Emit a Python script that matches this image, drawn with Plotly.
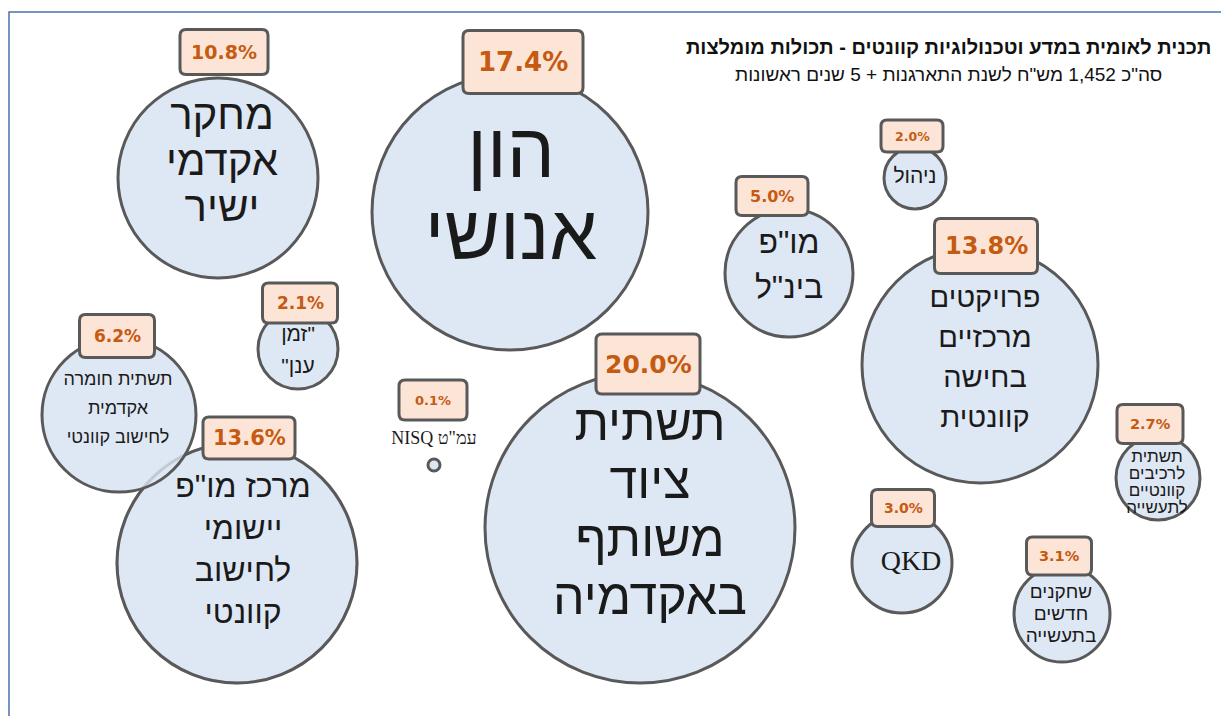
import plotly.graph_objects as go

# ---- data ----
labels = [
    ["מחקר", "אקדמי", "ישיר"],
    ["הון", "אנושי"],
    ['מו"פ', 'בינ"ל'],
    ["ניהול"],
    ["פרויקטים", "מרכזיים", "בחישה", "קוונטית"],
    ['זמן"', '"ענן'],
    ['מרכז מו"פ', "יישומי", "לחישוב", "קוונטי"],
    ["תשתית חומרה", "אקדמית", "לחישוב קוונטי"],
    ['NISQ עמ"ט'],
    ["תשתית", "ציוד", "משותף", "באקדמיה"],
    ["תשתית", "לרכיבים", "קוונטיים", "לתעשייה"],
    ["QKD"],
    ["שחקנים", "חדשים", "בתעשייה"],
]
values = [10.8, 17.4, 5.0, 2.0, 13.8, 2.1, 13.6, 6.2, 0.1, 20.0, 2.7, 3.0, 3.1]

# bubble layout (page pixels)
bubble_x = [218, 510, 789, 915, 980, 298, 237, 119, 434, 640, 1158, 902, 1062]
bubble_y = [178, 212, 273, 178, 365, 349, 563, 415, 465, 528, 478, 563, 614]
bubble_r = [100, 138, 64, 31, 118, 40, 120, 77, 6, 155, 42, 50, 48]

# value label boxes
box_x = [224, 523, 772, 912, 986, 300, 249, 117, 433, 648, 1150, 903, 1059]
box_y = [52, 62, 196, 136, 246, 303, 438, 336, 400, 364, 424, 508, 556]
box_w = [88, 120, 72, 62, 103, 75, 92, 75, 68, 104, 66, 63, 65]
box_h = [45, 63, 39, 32, 55, 40, 42, 43, 40, 60, 39, 37, 38]
box_font = [19, 26, 16, 12.5, 24, 17, 21, 17, 13, 25, 14.5, 14, 14.5]

# category text (block centre, font size, line spacing)
text_x = [222, 511, 789, 915, 985, 298, 243, 118, 434, 650, 1157, 911, 1061]
text_y = [164, 199, 267, 178, 360, 352, 552, 409, 439, 514, 483, 563, 615]
text_size = [42, 76, 32, 21, 29, 21, 32, 18, 18, 50, 17, 28, 19]
line_gap = [46, 82, 45, 0, 40, 32, 42, 29, 0, 58, 17, 0, 22]
text_family = ["Liberation Sans"] * 13
text_family[8] = "Liberation Serif"
text_family[11] = "Liberation Serif"

title = "תכנית לאומית במדע וטכנולוגיות קוונטים - תכולות מומלצות"
subtitle = 'סה"כ 1,452 מש"ח לשנת התארגנות + 5 שנים ראשונות'

# ---- figure ----
W, H = 1221, 708  # page has 8px body margin
X0, Y0 = 8, 8

fig = go.Figure()

fig.add_trace(go.Scatter(
    x=bubble_x, y=bubble_y,
    mode="markers",
    marker=dict(
        size=[2 * r for r in bubble_r],
        sizemode="diameter",
        color="#dee8f4",
        opacity=1,
        line=dict(color="#595959", width=3),
    ),
    hoverinfo="skip",
    showlegend=False,
))

# faint outline of the 13.6% bubble showing through the 6.2% bubble
ov = [6]
fig.add_trace(go.Scatter(
    x=[bubble_x[i] for i in ov], y=[bubble_y[i] for i in ov],
    mode="markers",
    marker=dict(size=[2 * bubble_r[i] for i in ov], sizemode="diameter",
                color="rgba(0,0,0,0)", line=dict(color="rgba(89,89,89,0.3)", width=3)),
    hoverinfo="skip", showlegend=False,
))

# one text mark per line
lx, ly, lt, ls, lf = [], [], [], [], []
for i, lines in enumerate(labels):
    n = len(lines)
    for k, s in enumerate(lines):
        lx.append(text_x[i])
        ly.append(text_y[i] + (k - (n - 1) / 2) * line_gap[i])
        lt.append(s)
        ls.append(text_size[i])
        lf.append(text_family[i])

fig.add_trace(go.Scatter(
    x=lx, y=ly, mode="text", text=lt,
    textposition="middle center",
    textfont=dict(size=ls, family=lf, color="#1a1a1a"),
    hoverinfo="skip", showlegend=False,
))

def rounded_rect(cx, cy, w, h, r=6):
    x0, x1 = cx - w / 2, cx + w / 2
    y0, y1 = cy - h / 2, cy + h / 2
    return (f"M {x0+r},{y0} L {x1-r},{y0} Q {x1},{y0} {x1},{y0+r} "
            f"L {x1},{y1-r} Q {x1},{y1} {x1-r},{y1} L {x0+r},{y1} "
            f"Q {x0},{y1} {x0},{y1-r} L {x0},{y0+r} Q {x0},{y0} {x0+r},{y0} Z")

shapes = []
for i in range(len(values)):
    shapes.append(dict(type="path", path=rounded_rect(box_x[i], box_y[i], box_w[i], box_h[i]),
                       xref="x", yref="y", fillcolor="#fce4d6",
                       line=dict(color="#595959", width=3), layer="above"))
# outer frame
shapes.append(dict(type="rect", xref="x", yref="y", x0=9, y0=12, x1=1240, y1=740,
                   line=dict(color="#4a72a6", width=1.5), fillcolor="rgba(0,0,0,0)", layer="below"))

annotations = []
for i, v in enumerate(values):
    annotations.append(dict(x=box_x[i], y=box_y[i], xref="x", yref="y", text=f"<b>{v:.1f}%</b>",
                            showarrow=False, font=dict(family="DejaVu Sans", size=box_font[i], color="#c55a11")))
annotations.append(dict(x=948, y=47, xref="x", yref="y", text=f"<b>{title}</b>", showarrow=False,
                        font=dict(family="Liberation Sans", size=20, color="#111111")))
annotations.append(dict(x=948, y=74, xref="x", yref="y", text=subtitle, showarrow=False,
                        font=dict(family="Liberation Sans", size=19, color="#111111")))

fig.update_layout(
    width=W, height=H,
    margin=dict(l=0, r=0, t=0, b=0),
    paper_bgcolor="white", plot_bgcolor="white",
    xaxis=dict(range=[X0, X0 + W], visible=False, fixedrange=True),
    yaxis=dict(range=[Y0 + H, Y0], visible=False, fixedrange=True),
    shapes=shapes, annotations=annotations,
)

fig.write_html("out.html")
